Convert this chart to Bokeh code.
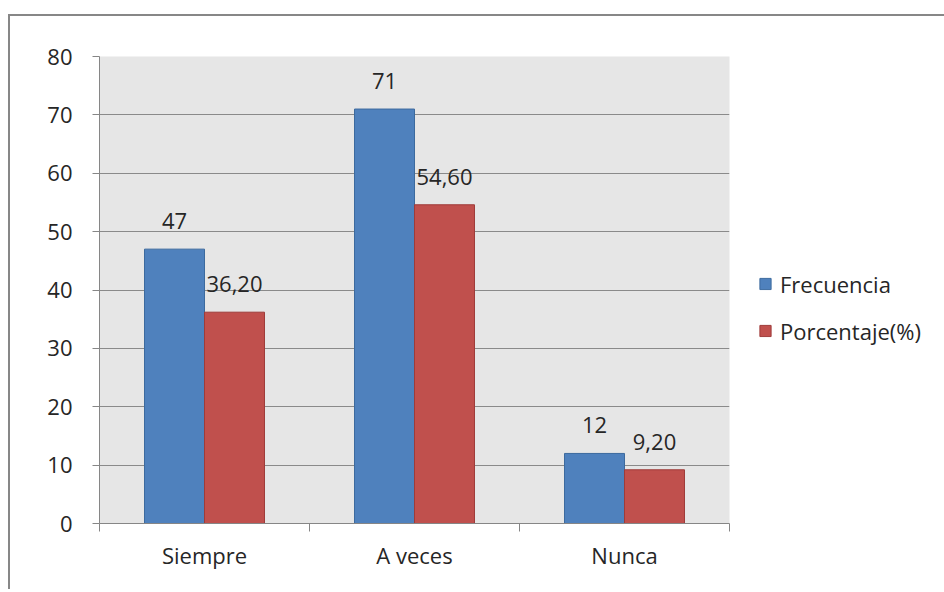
import numpy as np
from bokeh.plotting import figure
from bokeh.models import (ColumnDataSource, Range1d, FixedTicker, LabelSet, Legend,
                          LegendItem)
from bokeh.core.properties import value
from bokeh.embed import file_html
from bokeh.resources import INLINE

categories = ["Siempre", "A veces", "Nunca"]
frecuencia = [47, 71, 12]
porcentaje = [36.20, 54.60, 9.20]
series_names = ["Frecuencia", "Porcentaje(%)"]
y_ticks = [0, 10, 20, 30, 40, 50, 60, 70, 80]

FONT = "Open Sans"
TXT = "#262626"
BLUE, BLUE_L = "#4F81BD", "#3C6A9E"
RED, RED_L = "#C0504D", "#9E3B39"

idx = np.arange(len(categories)) + 0.5
bw = 0.2857

src_f = ColumnDataSource(dict(x=idx - bw / 2, y=frecuencia,
                              t=[str(v) for v in frecuencia]))
src_p = ColumnDataSource(dict(x=idx + bw / 2, y=porcentaje,
                              t=[f"{v:.2f}".replace(".", ",") for v in porcentaje]))

p = figure(frame_width=630, frame_height=467, output_backend="svg",
           toolbar_location=None,
           x_range=Range1d(0, len(categories)), y_range=Range1d(0, 80),
           min_border_left=89, min_border_right=212, min_border_top=40,
           min_border_bottom=66, border_fill_color="white")
p.styles = {"border-left": "2px solid #878787", "border-top": "2px solid #878787",
            "margin-left": "8px", "margin-top": "14px"}
p.outline_line_color = None
p.background_fill_color = "#E6E6E6"

rf = p.vbar(x="x", top="y", width=bw, source=src_f, fill_color=BLUE,
            line_color=BLUE_L, line_width=1)
rp = p.vbar(x="x", top="y", width=bw, source=src_p, fill_color=RED,
            line_color=RED_L, line_width=1)

for s in (src_f, src_p):
    p.add_layout(LabelSet(x="x", y="y", text="t", source=s, text_align="center",
                          text_baseline="alphabetic", y_offset=20,
                          text_font=value(FONT), text_font_size="22px",
                          text_color=TXT))

# y axis
p.yaxis.ticker = FixedTicker(ticks=y_ticks)
p.yaxis.axis_line_color = "#868686"
p.yaxis.major_tick_line_color = "#868686"
p.yaxis.major_tick_out = 7
p.yaxis.major_tick_in = 0
p.yaxis.minor_tick_line_color = None
p.yaxis.major_label_standoff = 20
p.yaxis.major_label_text_font = FONT
p.yaxis.major_label_text_font_size = "22px"
p.yaxis.major_label_text_color = TXT

# x axis: labels at centers, ticks at category boundaries
p.xaxis.ticker = FixedTicker(ticks=list(idx),
                             minor_ticks=list(range(len(categories) + 1)))
p.xaxis.major_label_overrides = {float(v): c for v, c in zip(idx, categories)}
p.xaxis.axis_line_color = "#868686"
p.xaxis.major_tick_line_color = None
p.xaxis.minor_tick_line_color = "#868686"
p.xaxis.minor_tick_out = 8
p.xaxis.minor_tick_in = 0
p.xaxis.major_label_standoff = 8
p.xaxis.major_label_text_font = FONT
p.xaxis.major_label_text_font_size = "22px"
p.xaxis.major_label_text_color = TXT

p.xgrid.grid_line_color = None
p.ygrid.grid_line_color = "#8A8A8A"
p.ygrid.grid_line_width = 1

legend = Legend(items=[LegendItem(label=series_names[0], renderers=[rf]),
                       LegendItem(label=series_names[1], renderers=[rp])],
                location="left", orientation="vertical",
                title=" ", title_text_font_size="22px", title_standoff=8,
                glyph_width=14, glyph_height=14, label_height=14,
                label_standoff=8, spacing=17, padding=0, margin=29,
                border_line_color=None, background_fill_alpha=0,
                label_text_font=FONT, label_text_font_size="22px",
                label_text_color=TXT)
p.add_layout(legend, "right")

open("out.html", "w").write(file_html(p, INLINE))
